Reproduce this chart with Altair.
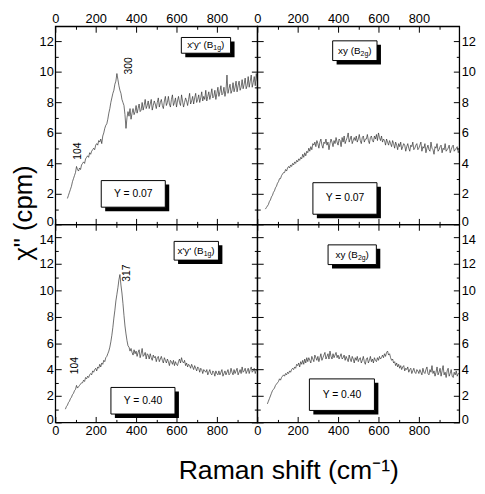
import altair as alt
import pandas as pd

FONT = "Liberation Sans"

# ---------------- data ----------------
tl_x = list(range(60, 1001, 5))
tl_y = [1.7, 1.9, 2.1, 2.3, 2.5, 2.8, 3.0, 3.2, 3.4, 3.8,
        3.6, 3.5, 3.7, 3.6, 3.9, 4.0, 4.1, 4.0, 4.3, 4.4,
        4.5, 4.4, 4.7, 4.6, 4.8, 4.9, 5.0, 4.9, 5.2, 5.3,
        5.2, 5.5, 5.4, 5.6, 5.3, 5.8, 6.0, 6.3, 6.5, 6.6,
        6.9, 7.3, 7.6, 8.0, 8.3, 8.6, 8.8, 9.2, 9.4, 9.9,
        9.5, 9.1, 8.8, 8.6, 8.2, 8.0, 7.8, 7.2, 6.3, 7.0,
        7.4, 7.1, 7.6, 6.9, 7.3, 7.6, 7.2, 7.4, 7.8, 7.3,
        7.6, 7.9, 7.4, 7.5, 8.0, 7.5, 7.8, 8.2, 7.6, 7.8,
        8.1, 7.6, 7.9, 8.2, 7.5, 7.8, 8.1, 7.9, 7.6, 8.0,
        8.3, 7.7, 8.0, 8.2, 7.8, 7.6, 8.1, 8.4, 7.8, 8.0,
        8.4, 7.9, 7.7, 8.2, 8.5, 7.8, 8.0, 8.3, 7.7, 8.1,
        8.4, 8.0, 7.8, 8.5, 8.1, 7.7, 8.0, 8.3, 8.1, 7.8,
        8.2, 8.6, 7.9, 8.1, 8.4, 7.9, 8.3, 8.6, 8.0, 8.2,
        8.5, 8.0, 8.3, 8.7, 8.1, 8.4, 8.2, 8.8, 8.1, 8.4,
        8.7, 8.2, 8.5, 8.9, 8.3, 8.4, 8.8, 8.2, 8.6, 9.0,
        8.4, 8.7, 9.1, 8.5, 8.6, 9.0, 8.4, 8.8, 9.8, 8.6,
        8.9, 9.2, 8.6, 8.8, 9.3, 8.7, 9.0, 9.4, 8.7, 9.1,
        9.4, 8.8, 9.0, 9.5, 8.9, 9.2, 9.6, 8.9, 9.1, 9.7,
        9.0, 9.4, 9.8, 9.0, 9.3, 9.7, 9.1, 9.9, 9.4]

tr_x = list(range(40, 1001, 5))
tr_y = [1.0, 1.1, 1.2, 1.3, 1.5, 1.6, 1.8, 1.9, 2.1, 2.2,
        2.4, 2.5, 2.7, 2.8, 3.0, 3.0, 3.2, 3.3, 3.4, 3.4,
        3.6, 3.5, 3.7, 3.8, 3.7, 3.9, 3.8, 4.0, 3.9, 4.1,
        4.0, 4.2, 4.1, 4.3, 4.2, 4.4, 4.3, 4.6, 4.4, 4.7,
        4.5, 4.8, 4.7, 5.0, 4.8, 5.1, 4.9, 5.3, 5.2, 5.4,
        5.1, 5.5, 5.3, 5.0, 5.4, 5.6, 5.2, 5.0, 5.4, 5.3,
        5.6, 5.2, 5.4, 4.9, 5.3, 5.6, 5.4, 5.1, 5.5, 5.3,
        5.7, 5.4, 5.2, 5.6, 5.5, 5.1, 5.7, 5.4, 5.8, 5.3,
        5.5, 5.7, 6.0, 5.4, 5.6, 5.8, 5.3, 5.5, 5.7, 5.5,
        5.8, 5.4, 5.6, 5.9, 5.5, 5.3, 5.7, 5.8, 5.4, 5.6,
        5.6, 5.9, 5.5, 5.3, 5.7, 5.8, 5.5, 5.4, 5.8, 5.6,
        5.9, 5.5, 6.0, 5.7, 5.5, 5.8, 5.4, 5.6, 5.5, 5.2,
        5.6, 5.4, 5.2, 5.5, 5.3, 5.1, 5.5, 5.3, 5.0, 5.4,
        5.2, 4.9, 5.3, 5.1, 5.4, 4.9, 5.1, 5.3, 5.2, 4.8,
        5.1, 5.3, 5.0, 4.8, 5.2, 5.1, 5.4, 4.9, 5.0, 5.2,
        5.3, 4.9, 5.0, 5.2, 5.4, 4.8, 5.1, 5.0, 5.3, 4.7,
        5.0, 5.2, 4.9, 4.8, 5.4, 5.0, 4.9, 4.6, 5.1, 5.0,
        5.3, 4.8, 4.9, 5.1, 5.2, 4.7, 5.0, 4.9, 5.3, 4.8,
        4.9, 5.0, 5.2, 4.7, 4.9, 5.1, 5.2, 4.8, 4.9, 5.0,
        5.1, 4.7, 4.9]

bl_x = list(range(50, 1001, 5))
bl_y = [1.0, 1.2, 1.3, 1.5, 1.6, 1.8, 1.9, 2.1, 2.2, 2.4,
        2.5, 2.8, 2.6, 2.7, 2.8, 2.9, 3.0, 3.0, 3.2, 3.1,
        3.4, 3.3, 3.5, 3.4, 3.6, 3.7, 3.6, 3.9, 3.8, 4.0,
        4.1, 3.9, 4.2, 4.1, 4.4, 4.2, 4.5, 4.4, 4.7, 4.6,
        4.9, 5.0, 5.2, 5.4, 5.7, 6.1, 6.6, 7.2, 7.9, 8.5,
        9.2, 9.7, 10.2, 10.8, 11.2, 10.4, 9.8, 9.0, 8.1, 7.3,
        6.7, 6.2, 5.8, 5.7, 5.4, 5.6, 5.3, 5.1, 5.5, 5.2,
        5.4, 5.0, 5.3, 5.5, 4.9, 5.2, 5.6, 5.0, 5.1, 5.3,
        4.8, 5.2, 5.1, 4.8, 5.2, 4.9, 4.7, 5.1, 4.9, 5.0,
        4.6, 4.9, 5.0, 4.6, 4.8, 5.0, 4.7, 4.5, 4.9, 4.7,
        4.5, 4.8, 4.6, 4.3, 4.7, 4.6, 4.4, 4.7, 4.3, 4.6,
        4.4, 4.3, 4.6, 4.8, 4.5, 4.9, 4.6, 4.5, 4.7, 4.3,
        4.5, 4.2, 4.4, 4.3, 4.1, 4.4, 4.2, 4.0, 4.3, 4.1,
        3.9, 4.2, 4.1, 3.8, 4.1, 4.0, 3.7, 4.0, 3.9, 3.8,
        4.0, 3.6, 3.8, 4.0, 3.7, 3.6, 3.9, 3.8, 3.5, 3.9,
        3.7, 3.6, 3.9, 3.6, 3.8, 4.0, 3.5, 3.7, 3.9, 3.6,
        3.8, 4.0, 3.6, 3.7, 4.1, 3.8, 3.6, 4.0, 3.7, 3.9,
        4.1, 3.6, 3.8, 4.0, 3.7, 4.2, 3.8, 3.9, 4.1, 3.7,
        3.9, 4.1, 3.7, 4.0, 4.2, 3.8, 3.9, 4.1, 3.7, 4.0,
        3.9]

br_x = list(range(50, 1001, 5))
br_y = [1.4, 1.6, 1.8, 2.0, 2.2, 2.4, 2.5, 2.6, 2.8, 2.9,
        3.0, 3.1, 3.3, 3.2, 3.4, 3.5, 3.6, 3.5, 3.7, 3.6,
        3.8, 3.7, 3.9, 3.8, 4.0, 4.1, 4.0, 4.2, 4.1, 4.4,
        4.3, 4.5, 4.2, 4.6, 4.4, 4.7, 4.4, 4.8, 4.5, 4.9,
        4.6, 4.9, 4.7, 4.5, 5.0, 4.8, 4.6, 5.1, 4.9, 4.7,
        5.0, 4.6, 4.9, 5.2, 4.7, 4.9, 5.1, 5.3, 4.8, 5.0,
        5.2, 4.8, 5.4, 5.0, 4.8, 5.2, 4.9, 5.1, 5.3, 4.9,
        5.1, 4.8, 5.0, 5.2, 4.8, 4.9, 5.1, 4.7, 5.0, 4.8,
        4.6, 5.1, 4.8, 4.6, 5.0, 4.8, 4.5, 4.9, 4.7, 5.0,
        4.6, 4.8, 4.9, 4.5, 4.7, 5.0, 4.6, 4.4, 4.8, 4.9,
        4.5, 4.7, 5.0, 4.6, 4.8, 4.5, 4.9, 4.7, 4.6, 4.9,
        4.7, 5.0, 4.8, 4.9, 5.1, 4.9, 5.2, 5.0, 5.3, 5.4,
        5.1, 5.2, 4.9, 4.7, 4.8, 4.5, 4.6, 4.3, 4.5, 4.2,
        4.4, 4.1, 4.3, 4.0, 4.2, 4.3, 3.9, 4.1, 4.0, 4.2,
        3.8, 4.0, 4.1, 3.7, 3.9, 4.1, 3.8, 3.7, 4.0, 3.9,
        3.7, 4.0, 3.8, 3.6, 4.1, 3.8, 3.7, 4.0, 4.2, 3.7,
        3.6, 4.0, 3.8, 4.3, 3.7, 3.9, 3.5, 3.8, 4.2, 3.6,
        3.8, 4.1, 3.5, 3.9, 4.3, 3.6, 3.8, 3.4, 3.9, 4.1,
        3.5, 3.7, 4.0, 3.5, 3.4, 3.8, 3.6, 3.9, 3.5, 3.7,
        3.7]

X_MAJOR = [0, 200, 400, 600, 800]
X_MINOR = [100, 300, 500, 700, 900]
Y_MAJOR_TOP = [0, 2, 4, 6, 8, 10, 12]
Y_MINOR_TOP = [1, 3, 5, 7, 9, 11]
Y_MAJOR_BOT = [0, 2, 4, 6, 8, 10, 12, 14]
Y_MINOR_BOT = [1, 3, 5, 7, 9, 11, 13]

# box anchors (data coords): [symmetry-label box, Y-label box]
tl_boxes = {"x": [746, 386], "y": [11.75, 2.0]}
tr_boxes = {"x": [483, 434], "y": [11.4, 1.7]}
bl_boxes = {"x": [698, 434], "y": [13.0, 1.64]}
br_boxes = {"x": [470, 419], "y": [12.7, 2.1]}

sym_texts = ["x'y' (B", "xy (B"]
sym_subs = ["1g", "2g"]
doping = ["Y = 0.07", "Y = 0.40"]

# peak annotations
tl_notes = {"x": [112, 366], "y": [4.8, 10.4], "t": ["104", "300"]}
bl_notes = {"x": [98, 355], "y": [4.3, 11.3], "t": ["104", "317"]}

W, H = 205, 201


def make_axis(orient, values, major, show, label_shift=None):
    if major:
        kw = {}
        if label_shift is not None:
            kw["labelOffset"] = label_shift
        return alt.Axis(orient=orient, values=values, tickSize=6, offset=-6,
                        labels=show, domain=False, grid=False, title=None,
                        tickColor="black", tickWidth=1, labelColor="black",
                        labelFont=FONT, labelFontSize=13,
                        labelPadding=1 if orient == "top" else 2,
                        labelOverlap=False, labelFlush=False, **kw)
    return alt.Axis(orient=orient, values=values, tickSize=3, offset=-3,
                    labels=False, domain=False, grid=False, title=None,
                    tickColor="black", tickWidth=1)


# nudges for the crowded labels at the row boundary / corner
SHIFT_TOP = {"condition": {"test": "datum.value === 0", "value": -3}, "value": 0}
SHIFT_BOT = {"condition": [{"test": "datum.value === 14", "value": 2},
                           {"test": "datum.value === 0", "value": -3}], "value": 0}


def panel(xv, yv, ymax, ymaj, ymin, xlab, ylab, boxes, wide, sym_i, dop_i, shift, notes=None):
    df = pd.DataFrame({"x": xv, "y": yv})
    xs = alt.Scale(domain=[0, 1000], nice=False, zero=False)
    ys = alt.Scale(domain=[0, ymax], nice=False, zero=False)

    line = alt.Chart(df).mark_line(color="#303030", strokeWidth=0.7, clip=True).encode(
        x=alt.X("x:Q", scale=xs, axis=None),
        y=alt.Y("y:Q", scale=ys, axis=None),
    )

    layers = [line]

    bdf = pd.DataFrame({"x": boxes["x"], "y": boxes["y"], "k": [0, 1]})
    sizes = [(wide[0], wide[1]), (wide[2], wide[3])]
    for k in (0, 1):
        sub = bdf[bdf.k == k]
        bw, bh = sizes[k]
        enc = dict(x=alt.X("x:Q", scale=xs, axis=None), x2=alt.X2("x"),
                   y=alt.Y("y:Q", scale=ys, axis=None), y2=alt.Y2("y"))
        shadow = alt.Chart(sub).mark_rect(
            color="black", xOffset=-bw / 2 + 4, x2Offset=bw / 2 + 4,
            yOffset=-bh / 2 + 4, y2Offset=bh / 2 + 4).encode(**enc)
        box = alt.Chart(sub).mark_rect(
            fill="white", stroke="black", strokeWidth=1,
            xOffset=-bw / 2, x2Offset=bw / 2,
            yOffset=-bh / 2, y2Offset=bh / 2).encode(**enc)
        layers += [shadow, box]

    tenc = dict(x=alt.X("x:Q", scale=xs, axis=None), y=alt.Y("y:Q", scale=ys, axis=None))
    s0 = bdf[bdf.k == 0]
    if sym_i == 0:
        d_main, d_close = 7.5, 15.3
    else:
        d_main, d_close = 5.8, 13.6
    layers.append(alt.Chart(s0).mark_text(text=sym_texts[sym_i], font=FONT, fontSize=10, align="right",
                                           baseline="middle", dx=d_main, color="black").encode(**tenc))
    layers.append(alt.Chart(s0).mark_text(text=sym_subs[sym_i], font=FONT, fontSize=7, align="left",
                                           baseline="middle", dx=d_main, dy=3, color="black").encode(**tenc))
    layers.append(alt.Chart(s0).mark_text(text=")", font=FONT, fontSize=10, align="left",
                                           baseline="middle", dx=d_close, color="black").encode(**tenc))
    s1 = bdf[bdf.k == 1]
    layers.append(alt.Chart(s1).mark_text(text=doping[dop_i], font=FONT, fontSize=10.5, align="center",
                                           baseline="middle", color="black").encode(**tenc))

    if notes is not None:
        ndf = pd.DataFrame(notes)
        layers.append(alt.Chart(ndf).mark_text(font=FONT, fontSize=10.5, angle=270, align="center",
                                               baseline="middle", color="black").encode(
            text="t:N", **tenc))

    ax_df = df.iloc[:1]
    combos = [("top", "left", True), ("bottom", "right", True),
              ("top", "left", False), ("bottom", "right", False)]
    for xo, yo, major in combos:
        xvals = X_MAJOR if major else X_MINOR
        yvals = ymaj if major else ymin
        show_y = major and yo == ylab
        ax = alt.Chart(ax_df).mark_point(opacity=0).encode(
            x=alt.X("x:Q", scale=xs, axis=make_axis(xo, xvals, major, major and xo == xlab)),
            y=alt.Y("y:Q", scale=ys, axis=make_axis(yo, yvals, major, show_y,
                                                    shift if show_y else None)),
        )
        layers.append(ax)

    return alt.layer(*layers).resolve_axis(x="independent", y="independent").properties(
        width=W, height=H)


tl = panel(tl_x, tl_y, 13, Y_MAJOR_TOP, Y_MINOR_TOP, "top", "left", tl_boxes,
           (50, 16, 65, 27), 0, 0, SHIFT_TOP, tl_notes)
tr = panel(tr_x, tr_y, 13, Y_MAJOR_TOP, Y_MINOR_TOP, "top", "right", tr_boxes,
           (45, 20, 65, 32), 1, 0, SHIFT_TOP)
bl = panel(bl_x, bl_y, 15, Y_MAJOR_BOT, Y_MINOR_BOT, "bottom", "left", bl_boxes,
           (45, 19, 65, 27), 0, 1, SHIFT_BOT, bl_notes)
br = panel(br_x, br_y, 15, Y_MAJOR_BOT, Y_MINOR_BOT, "bottom", "right", br_boxes,
           (49, 20, 66, 32), 1, 1, SHIFT_BOT)

grid = alt.concat(tl, tr, bl, br, columns=2, spacing=0, bounds="flush").properties(
    title=alt.TitleParams('\u03c7" (cpm)', orient="left", anchor="middle",
                          font=FONT, fontSize=26, fontWeight="normal", color="black",
                          offset=2, dx=12))

chart = alt.vconcat(grid, spacing=0).properties(
    title=alt.TitleParams("Raman shift (cm\u207b\u00b9)", orient="bottom", anchor="middle",
                          font=FONT, fontSize=27, fontWeight="normal", color="black",
                          offset=21, dx=46),
    padding={"left": 2, "top": 0, "right": 0, "bottom": 0},
    background="white",
).configure_view(stroke="black", strokeWidth=1.3)

chart.save("out.html", embed_options={"renderer": "svg", "actions": False})
